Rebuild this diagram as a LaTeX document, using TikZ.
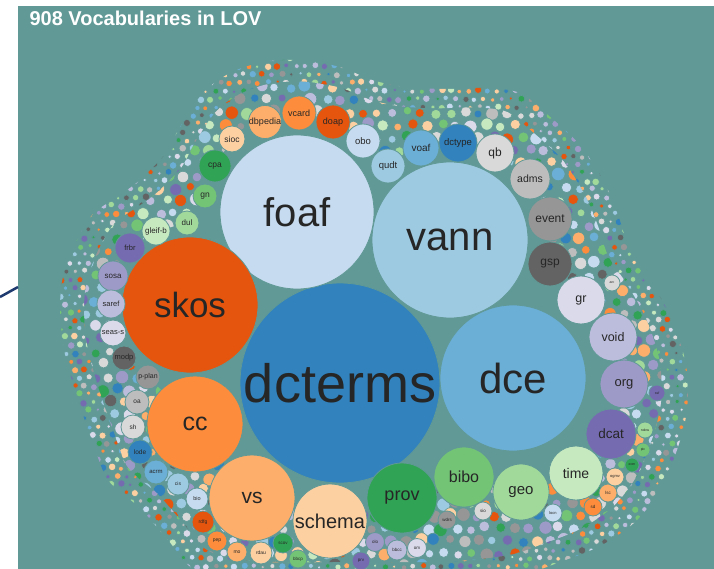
\documentclass[tikz,border=0pt]{standalone}
\usepackage{fontspec}
\setmainfont{Liberation Sans}
\usepackage{tikz}
\usetikzlibrary{positioning,calc}
\definecolor{lovbg}{RGB}{96,153,150}
\definecolor{edgeblue}{RGB}{30,58,110}
\definecolor{c1}{HTML}{3182BD}
\definecolor{c2}{HTML}{6BAED6}
\definecolor{c3}{HTML}{9ECAE1}
\definecolor{c4}{HTML}{C6DBEF}
\definecolor{c5}{HTML}{E6550D}
\definecolor{c6}{HTML}{FD8D3C}
\definecolor{c7}{HTML}{FDAE6B}
\definecolor{c8}{HTML}{FDD0A2}
\definecolor{c9}{HTML}{31A354}
\definecolor{c10}{HTML}{74C476}
\definecolor{c11}{HTML}{A1D99B}
\definecolor{c12}{HTML}{C7E9C0}
\definecolor{c13}{HTML}{756BB1}
\definecolor{c14}{HTML}{9E9AC8}
\definecolor{c15}{HTML}{BCBDDC}
\definecolor{c16}{HTML}{DADAEB}
\definecolor{c17}{HTML}{636363}
\definecolor{c18}{HTML}{969696}
\definecolor{c19}{HTML}{BDBDBD}
\definecolor{c20}{HTML}{D9D9D9}
\tikzstyle{vocab} = [circle,inner sep=0pt,draw=lovbg,line width=0.8pt,text=black!85]
\tikzstyle{rimdot} = [draw=lovbg,line width=0.6pt]
% outline of the packed bubbles, shrunk towards (ctr) by #1
\newcommand{\lovblob}[1]{plot[smooth cycle] coordinates {($(ctr)!#1!(263,62)$) ($(ctr)!#1!(300,60)$) ($(ctr)!#1!(340,67)$) ($(ctr)!#1!(372,80)$) ($(ctr)!#1!(405,87)$) ($(ctr)!#1!(445,89)$) ($(ctr)!#1!(485,88)$) ($(ctr)!#1!(520,93)$) ($(ctr)!#1!(548,115)$) ($(ctr)!#1!(580,145)$) ($(ctr)!#1!(604,182)$) ($(ctr)!#1!(618,215)$) ($(ctr)!#1!(630,250)$) ($(ctr)!#1!(652,283)$) ($(ctr)!#1!(672,320)$) ($(ctr)!#1!(686,365)$) ($(ctr)!#1!(687,410)$) ($(ctr)!#1!(677,450)$) ($(ctr)!#1!(660,490)$) ($(ctr)!#1!(635,522)$) ($(ctr)!#1!(600,546)$) ($(ctr)!#1!(560,562)$) ($(ctr)!#1!(520,575)$) ($(ctr)!#1!(450,582)$) ($(ctr)!#1!(350,582)$) ($(ctr)!#1!(250,582)$) ($(ctr)!#1!(195,570)$) ($(ctr)!#1!(168,540)$) ($(ctr)!#1!(140,508)$) ($(ctr)!#1!(108,480)$) ($(ctr)!#1!(92,440)$) ($(ctr)!#1!(78,400)$) ($(ctr)!#1!(64,350)$) ($(ctr)!#1!(60,310)$) ($(ctr)!#1!(63,277)$) ($(ctr)!#1!(76,242)$) ($(ctr)!#1!(93,214)$) ($(ctr)!#1!(117,197)$) ($(ctr)!#1!(140,180)$) ($(ctr)!#1!(166,153)$) ($(ctr)!#1!(180,127)$) ($(ctr)!#1!(203,93)$) ($(ctr)!#1!(230,73)$)}}

\begin{document}
\begin{tikzpicture}[x=1pt,y=-1pt]
			\useasboundingbox (0,0) rectangle (714,569);
			\fill[white] (0,0) rectangle (714,569);
			\fill[lovbg] (18,6) rectangle (714,569);
			\coordinate (ctr) at (360,330);
			
			%Edge line
			\coordinate (edgeA) at (0,297);
			\coordinate (edgeB) at (18,287);
			\draw[edgeblue,line width=2.5pt] (edgeA) -- (edgeB);
			
			%Title
			\node[anchor=base west,text=white,font=\bfseries\fontsize{20}{20}\selectfont] (title) at (26,26) {908 Vocabularies in LOV};
			
			%Small vocabularies on the rim
			\pgfmathsetseed{908}
			\begin{scope}
				\clip (18,6) rectangle (714,569);
				\begin{scope}[even odd rule]
				\clip \lovblob{1}
					(232,139) -- (265,122) -- (299,113) -- (333,122) -- (363,141) -- (388,166) -- (421,148) -- (458,143) -- (495,153) -- (530,179) -- (550,219) -- (550,264) -- (581,300) -- (613,337) -- (624,384) -- (611,434) -- (576,473) -- (521,492) -- (464,477) -- (402,498) -- (330,521) -- (252,498) -- (195,424) -- (148,377) -- (124,358) -- (113,333) -- (111,304) -- (113,276) -- (130,248) -- (156,231) -- (187,223) -- (205,196) -- (215,166) -- cycle;
				% larger ones next to the named vocabularies
				\begin{scope}
					\clip \lovblob{0.92};
					\foreach \row in {0,...,40}{
						\foreach \col in {0,...,44}{
							\pgfmathsetmacro{\px}{58+\col*14.5+mod(\row,2)*7.25+2*rand}
							\pgfmathsetmacro{\py}{62+\row*12.6+2*rand}
							\pgfmathsetmacro{\pr}{3.8+3*rnd}
							\pgfmathrandominteger{\pc}{1}{20}
							\pgfmathtruncatemacro{\keep}{((((\px-370)/370)^2+((\py-330)/300)^2)<1) && ((((\px-350)/190)^2+((\py-340)/140)^2)>1)}
							\ifnum\keep=1
								\fill[c\pc,rimdot] (\px,\py) circle (\pr pt);
							\fi
						}
					}
				\end{scope}
				% tiny ones on the outside
				\begin{scope}[even odd rule]
					\clip (0,0) rectangle (714,569) \lovblob{0.92};
					\foreach \row in {0,...,62}{
						\foreach \col in {0,...,68}{
							\pgfmathsetmacro{\px}{56+\col*9.4+mod(\row,2)*4.7+1.2*rand}
							\pgfmathsetmacro{\py}{58+\row*8.2+1.2*rand}
							\pgfmathsetmacro{\pr}{1.8+2*rnd}
							\pgfmathrandominteger{\pc}{1}{20}
							\pgfmathtruncatemacro{\keep}{((((\px-370)/370)^2+((\py-330)/300)^2)<1) && ((((\px-370)/259)^2+((\py-330)/210)^2)>1)}
							\ifnum\keep=1
								\fill[c\pc,rimdot] (\px,\py) circle (\pr pt);
							\fi
						}
					}
				\end{scope}
				\end{scope}
			\end{scope}
			
			%Second ring
			\foreach \n/\x/\y/\r/\c/\s in {oa/137/402/12/c19/6.5, sh/133/427/12/c20/6.5, lode/140/452/12/c1/6.5, acrm/156/472/12/c2/6, cis/178/484/11/c3/5, bio/197/499/11/c4/5.5, rdfg/203/522/11/c5/5, pep/217/541/10/c6/5, mo/237/552/10/c7/5, rdau/261/553/11/c8/5, scov/283/543/10/c9/4.5, bbcp/298/559/9/c10/4.5, olo/375/542/9.5/c14/4.5, prv/361/561/9/c13/4.5, bbcc/397/550/10/c15/4.5, om/417/548/9.5/c16/4.5, wdrs/447/520/9/c18/4.5, sio/483/511/9/c20/4.5, locn/553/513/9/c4/4, sd/593/507/9/c6/4.5, lsc/608/493/9/c7/4.5, ogmv/615/477/9/c8/4, eom/632/465/7/c9/3.5, pic/643/450/7/c10/3.5, ndow/645/430/8/c11/3.5, ssf/657/393/8/c13/3.5, arc/612/283/8/c20/3.5}{
				\node[vocab,fill=\c,minimum size=2*\r] (\n) at (\x,\y) {\fontsize{\s}{\s}\selectfont\n};
			}
			
			%Vocabularies
			\foreach \n/\x/\y/\r/\c/\s in {dcterms/340/383/100/c1/54, dce/513/378/73/c2/42, vann/450/240/78/c3/40, foaf/297/212/77/c4/40, skos/190/305/68/c5/35, cc/195/424/48/c6/25, vs/252/498/43/c7/21, schema/330/521/37/c8/20, prov/402/498/35/c9/18, bibo/464/477/30/c10/16, geo/521/492/28/c11/15, time/576/473/27/c12/14, dcat/611/434/25/c13/13.5, org/624/384/24/c14/13, void/613/337/24/c15/12.5, gr/581/300/24/c16/12.5, gsp/550/264/22/c17/12, event/550/219/22/c18/12, adms/530/179/20/c19/10.5, qb/495/153/19/c20/12, dctype/458/143/19/c1/9.5, voaf/421/148/18/c2/10, qudt/388/166/17/c3/9.5, obo/363/141/17/c4/9.5, doap/333/122/17/c5/9, vcard/299/113/17/c6/9, dbpedia/265/122/16.5/c7/9, sioc/232/139/13/c8/8.5, cpa/215/166/16/c9/8.5, gn/205/196/12/c10/8.5, dul/187/223/12/c11/8, gleif-b/156/231/14/c12/8, frbr/130/248/15/c13/7.5, sosa/113/276/15/c14/8, saref/111/304/14/c15/7.5, seas-s/113/333/13/c16/7.5, modp/124/358/12/c17/7.5, p-plan/148/377/12/c18/7}{
				\node[vocab,fill=\c,minimum size=2*\r] (\n) at (\x,\y) {\fontsize{\s}{\s}\selectfont\n};
			}
		\end{tikzpicture}
\end{document}
